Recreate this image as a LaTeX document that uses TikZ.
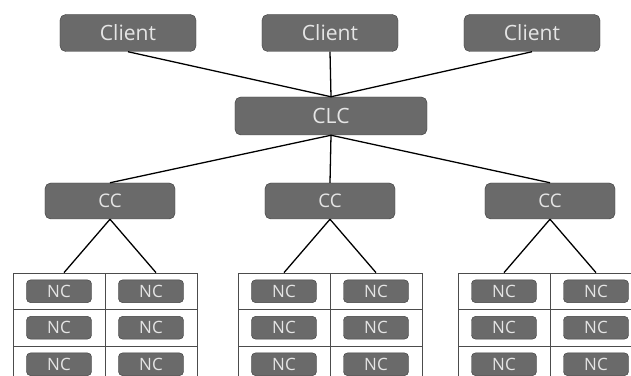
\documentclass[tikz,border=0pt]{standalone}
\usepackage{fontspec}
\setmainfont{Open Sans}
\usepackage{tikz}
\usetikzlibrary{positioning}
\definecolor{boxgray}{HTML}{6A6A6A}

\begin{document}
\begin{tikzpicture}[x=0.03cm,y=-0.03cm,
    box/.style={rectangle,rounded corners=0.17cm,draw=black!75,fill=boxgray,text=white!90!black,inner sep=0pt},
    big/.style={box,minimum width=4.08cm,minimum height=1.11cm,font=\fontsize{18}{20}\selectfont},
    mid/.style={box,minimum width=3.9cm,minimum height=1.08cm,font=\fontsize{16}{18}\selectfont},
    nc/.style={box,rounded corners=0.12cm,minimum width=1.95cm,minimum height=0.68cm,font=\fontsize{14.5}{16}\selectfont},
    cell/.style={rectangle,draw=black!70,line width=0.6pt,minimum width=2.76cm,minimum height=1.095cm,inner sep=0pt}]
    \useasboundingbox (0,0) rectangle (631,376);
    \clip (0,0) rectangle (631,376);

    \node[big] (client1) at (128,33) {Client};
    \node[big] (client2) at (330,33) {Client};
    \node[big] (client3) at (532,33) {Client};
    \node[big,minimum width=5.76cm,minimum height=1.14cm] (clc) at (331,116) {CLC};
    \node[mid] (cc1) at (110,201) {CC};
    \node[mid] (cc2) at (330,201) {CC};
    \node[mid] (cc3) at (550,201) {CC};

    \foreach \g/\gx in {1/13,2/238,3/458}
      \foreach \r in {1,2,3}
        \foreach \c in {1,2} {
          \node[cell] (cell\g\r\c) at ({\gx+46+92*(\c-1)},{291.25+36.5*(\r-1)}) {};
          \node[nc] (nc\g\r\c) at (cell\g\r\c.center) {NC};
        }

    \path[draw,line width=1.1pt]
    (client1.south) edge node {} (clc.north)
    (client2.south) edge node {} (clc.north)
    (client3.south) edge node {} (clc.north);

    \path[draw,line width=1.1pt]
    (clc.south) edge node {} (cc1.north)
    (clc.south) edge node {} (cc2.north)
    (clc.south) edge node {} (cc3.north);

    \path[draw,line width=1.1pt]
    (cc1.south) edge node {} ([xshift=0.15cm]cell111.north)
    (cc1.south) edge node {} ([xshift=0.15cm]cell112.north)
    (cc2.south) edge node {} (cell211.north)
    (cc2.south) edge node {} (cell212.north)
    (cc3.south) edge node {} (cell311.north)
    (cc3.south) edge node {} (cell312.north);
\end{tikzpicture}
\end{document}
